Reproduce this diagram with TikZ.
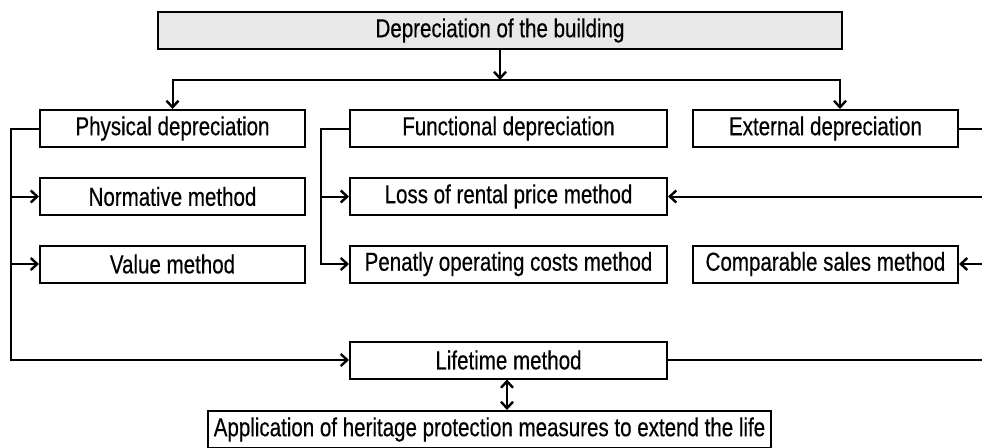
\documentclass[tikz,border=0pt]{standalone}
\usepackage{fontspec}
\setmainfont[FakeStretch=0.79,FakeBold=0.4]{Liberation Sans}
\usetikzlibrary{arrows.meta}
\begin{document}
\begin{tikzpicture}[x=1pt,y=-1pt,
  box/.style={draw,line width=2pt,minimum height=37pt,inner sep=0pt,
    font=\fontsize{26}{28}\selectfont},
  link/.style={line width=2pt},
  tip/.tip={Straight Barb[length=6.5pt,width=12pt,line width=2.4pt]},
  arr/.style={link,-tip},
  dbl/.style={link,tip-tip}]
\useasboundingbox (0,0) rectangle (982,447);

% main box
\node[box,fill=gray!18,minimum width=684pt] (top) at (500,30.5) {Depreciation of the building};

% three kinds of depreciation
\node[box,minimum width=265pt] (phys) at (172.5,128.5) {Physical depreciation};
\node[box,minimum width=317pt] (func) at (508.5,128.5) {Functional depreciation};
\node[box,minimum width=265pt] (ext)  at (825.5,128.5) {External depreciation};

% methods
\node[box,minimum width=265pt] (norm) at (172.5,196.5) {Normative method};
\node[box,minimum width=265pt] (val)  at (172.5,264)   {Value method};
\node[box,minimum width=317pt] (loss) at (508.5,196.5) {Loss of rental price method};
\node[box,minimum width=317pt] (pen)  at (508.5,264)   {Penatly operating costs method};
\node[box,minimum width=265pt] (comp) at (825.5,264)   {Comparable sales method};
\node[box,minimum width=317pt] (life) at (508.5,360)   {Lifetime method};
\node[box,minimum width=563pt] (app)  at (489.5,429.5) {Application of heritage protection measures to extend the life};

% distribution bus below the main box
\coordinate (busL) at (172.5,80);
\coordinate (busR) at (840,80);
\draw[arr] (top.south) -- (top.south |- busL);
\draw[arr] (busR) -- (busL) -- (phys.north);
\draw[arr] (busL) -- (busR) -- (busR |- ext.north);

% spines
\coordinate (spL) at (11,0);
\coordinate (spF) at (321,0);
\coordinate (spR) at (982,0);

% physical depreciation branch
\draw[arr] (phys.west) -| (spL |- life.west) -- (life.west);
\draw[arr] (spL |- norm.west) -- (norm.west);
\draw[arr] (spL |- val.west) -- (val.west);

% functional depreciation branch
\draw[arr] (func.west) -| (spF |- pen.west) -- (pen.west);
\draw[arr] (spF |- loss.west) -- (loss.west);

% external depreciation branch
\draw[link] (ext.east) -- (spR |- ext.east);
\draw[arr] (spR |- loss.east) -- (loss.east);
\draw[arr] (spR |- comp.east) -- (comp.east);
\draw[link] (life.east) -- (spR |- life.east);

% lifetime and heritage measures
\draw[dbl] ([xshift=-1.5pt]life.south) -- ([xshift=-1.5pt]life.south |- app.north);
\end{tikzpicture}
\end{document}
